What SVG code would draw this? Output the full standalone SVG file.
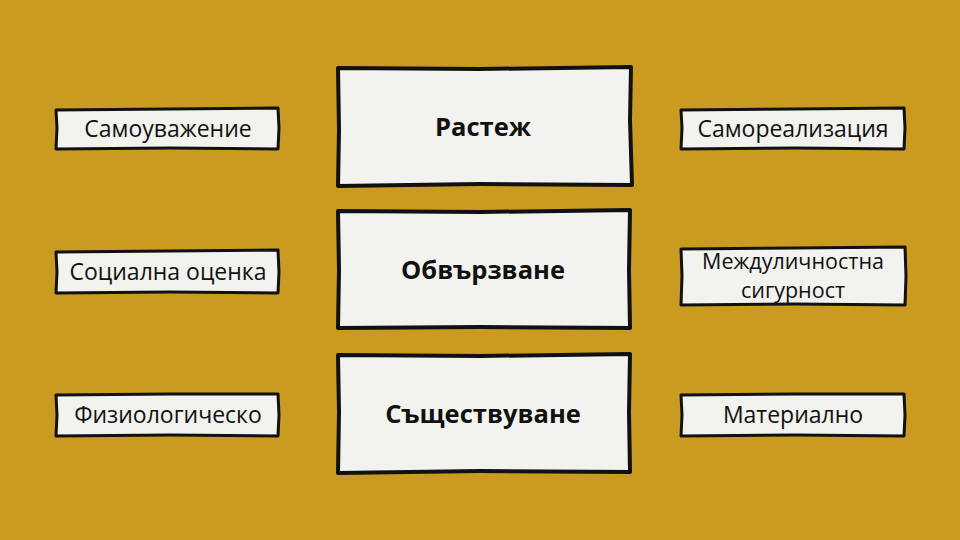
<svg xmlns="http://www.w3.org/2000/svg" width="960" height="540" viewBox="0 0 960 540">
<style>
.bg{fill:#CA9B20}
.box{fill:#F2F2EE;stroke:#111;stroke-width:4;stroke-linejoin:round}
.sbox{fill:#F2F2EE;stroke:#111;stroke-width:3;stroke-linejoin:round}
.t{font-family:"Open Sans","Noto Sans","DejaVu Sans",sans-serif;fill:#111;text-anchor:middle}
.big{font-size:25.5px;font-weight:bold}
.sm{font-size:23px}
.sm2{font-size:21.5px}
</style>
<rect class="bg" x="0" y="0" width="960" height="540"/>
<g id="n-rastezh">
<path class="box" d="M338,68 L480,69 L631,67 L630,120 L632,185 L480,184 L338,186 L339,130 Z"/>
<text class="t big" x="483" y="136">Растеж</text>
</g>
<g id="n-obvarzvane">
<path class="box" d="M338,211 L480,212 L630,210 L629,270 L630,328 L480,327 L338,328 L339,270 Z"/>
<text class="t big" x="483" y="279">Обвързване</text>
</g>
<g id="n-sashtestvuvane">
<path class="box" d="M338,355 L480,356 L630,354 L629,412 L630,472 L480,471 L338,473 L339,412 Z"/>
<text class="t big" x="483" y="423">Съществуване</text>
</g>
<g id="n-samouvazhenie">
<path class="sbox" d="M56,110 L170,109 L278,108 L279,128 L278,149 L170,148 L56,149 L57,128 Z"/>
<text class="t sm" x="168" y="137">Самоуважение</text>
</g>
<g id="n-socialna">
<path class="sbox" d="M56,252 L170,251 L278,250 L279,272 L278,293 L170,292 L56,293 L57,272 Z"/>
<text class="t sm" x="168" y="280">Социална оценка</text>
</g>
<g id="n-fiziologichesko">
<path class="sbox" d="M56,395 L170,394 L278,394 L279,415 L278,436 L170,435 L56,436 L57,415 Z"/>
<text class="t sm" x="168" y="423">Физиологическо</text>
</g>
<g id="n-samorealizacia">
<path class="sbox" d="M681,110 L795,109 L904,108 L905,128 L904,149 L795,148 L681,149 L682,128 Z"/>
<text class="t sm" x="793" y="137">Самореализация</text>
</g>
<g id="n-mezhdulichnostna">
<path class="sbox" d="M681,249 L795,248 L905,247 L906,276 L905,305 L795,304 L681,305 L682,276 Z"/>
<text class="t sm2" x="793" y="269">Междуличностна</text>
<text class="t sm2" x="793" y="298">сигурност</text>
</g>
<g id="n-materialno">
<path class="sbox" d="M681,395 L795,394 L904,394 L905,415 L904,436 L795,435 L681,436 L682,415 Z"/>
<text class="t sm" x="793" y="423">Материално</text>
</g>
<g id="connectors"></g>
</svg>
